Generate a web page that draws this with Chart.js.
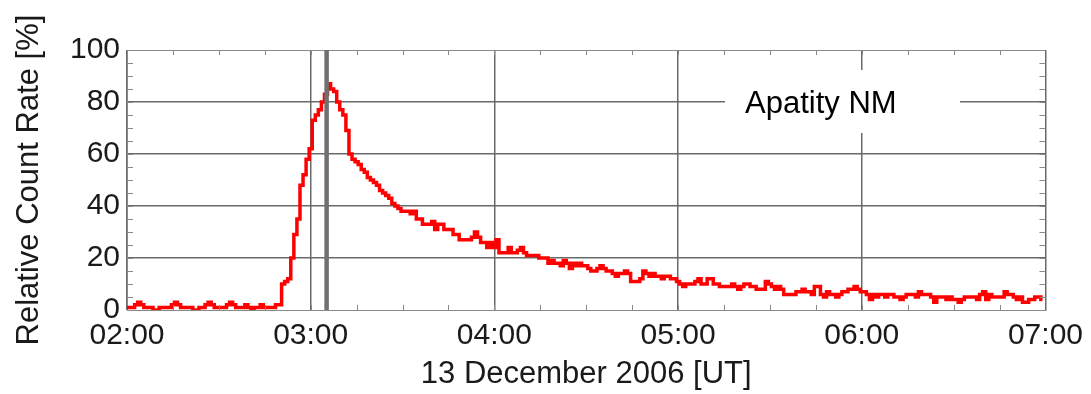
<!DOCTYPE html>
<html>
<head>
<meta charset="utf-8">
<script src="https://cdn.jsdelivr.net/npm/chart.js@4.4.1/dist/chart.umd.min.js"></script>
<style>
  html, body { margin: 0; padding: 0; background: #fff; }
  #wrap { width: 1091px; height: 394px; }
</style>
</head>
<body>
<div id="wrap"><canvas id="chart" width="1091" height="394"></canvas></div>
<script>
// minutes after 02:00 UT, 1-minute bins, relative count rate [%]
const countRate = [
  1, 1, 1, 2, 3, 2, 1, 1, 1, 0,
  0, 1, 1, 1, 1, 2, 3, 2, 1, 1,
  1, 1, 0, 0, 1, 1, 2, 3, 2, 1,
  1, 1, 1, 2, 3, 2, 1, 1, 1, 2,
  1, 0, 1, 1, 2, 1, 1, 1, 1, 2,
  2, 10, 11, 12, 20, 29, 35, 48, 52, 58,
  62, 73, 75, 77, 80, 83, 87, 85, 84, 80,
  77, 75, 69, 60, 58, 57, 56, 54, 53, 51,
  50, 49, 48, 46, 45, 44, 43, 41, 40, 39,
  38, 38, 38, 37, 38, 35, 35, 33, 33, 33,
  34, 31, 33, 33, 31, 31, 31, 29, 29, 27,
  27, 27, 27, 28, 30, 28, 26, 26, 24, 26,
  24, 27, 22, 22, 22, 24, 22, 22, 23, 24,
  22, 21, 21, 21, 21, 20, 20, 20, 18, 19,
  18, 18, 17, 19, 18, 16, 18, 17, 18, 17,
  17, 16, 15, 15, 16, 17, 16, 15, 15, 14,
  13, 14, 14, 15, 14, 11, 11, 11, 12, 15,
  14, 13, 14, 13, 13, 12, 13, 13, 12, 12,
  11, 10, 9, 10, 10, 10, 11, 12, 10, 10,
  12, 12, 10, 10, 9, 9, 9, 9, 10, 9,
  8, 9, 10, 10, 9, 9, 8, 8, 8, 11,
  10, 9, 8, 9, 8, 6, 6, 6, 6, 7,
  7, 8, 7, 7, 6, 9, 9, 6, 5, 7,
  6, 6, 5, 6, 7, 7, 8, 8, 9, 8,
  7, 7, 6, 4, 6, 5, 6, 6, 5, 6,
  6, 5, 5, 4, 5, 6, 6, 6, 5, 7,
  6, 6, 6, 5, 3, 5, 5, 5, 4, 5,
  4, 4, 3, 4, 5, 5, 5, 5, 4, 6,
  7, 4, 6, 5, 5, 5, 5, 7, 6, 6,
  5, 4, 5, 3, 3, 4, 4, 5, 5, 4
];
const startHour = 2;
const hourTicks = ["02:00", "03:00", "04:00", "05:00", "06:00", "07:00"];
const yTicks = [0, 20, 40, 60, 80, 100];
const onsetMinute = 65.2;
const stationLabel = "Apatity NM";
const xTitle = "13 December 2006 [UT]";
const yTitle = "Relative Count Rate [%]";

const FONT = "'Liberation Sans', Arial, Helvetica, sans-serif";
const GRID = "#6a6a6a";

function hhmm(min) {
  const h = startHour + Math.floor(min / 60);
  const m = Math.round(min % 60);
  return String(h).padStart(2, "0") + ":" + String(m).padStart(2, "0");
}

const decor = {
  id: "decor",
  afterDatasetsDraw(chart) {
    const { ctx, chartArea: a, scales: { x, y } } = chart;
    ctx.save();
    // onset marker
    const px = x.getPixelForValue(onsetMinute);
    ctx.strokeStyle = "#707070";
    ctx.lineWidth = 4.5;
    ctx.beginPath();
    ctx.moveTo(px, a.top);
    ctx.lineTo(px, a.bottom);
    ctx.stroke();
    // minor ticks (inside)
    ctx.strokeStyle = "#8a8a8a";
    ctx.lineWidth = 1;
    ctx.beginPath();
    for (let v = 5; v < 100; v += 5) {
      const py = Math.round(y.getPixelForValue(v)) + 0.5;
      ctx.moveTo(a.left, py); ctx.lineTo(a.left + 6, py);
      ctx.moveTo(a.right, py); ctx.lineTo(a.right - 6, py);
    }
    for (let m = 15; m < 300; m += 15) {
      const qx = Math.round(x.getPixelForValue(m)) + 0.5;
      ctx.moveTo(qx, a.bottom); ctx.lineTo(qx, a.bottom - 5);
      ctx.moveTo(qx, a.top); ctx.lineTo(qx, a.top + 5);
    }
    ctx.stroke();
    // station label with white box
    const bx = a.left + 598, by = a.top + 20;
    ctx.fillStyle = "#fff";
    ctx.fillRect(bx, by, 235, 63);
    ctx.fillStyle = "#000";
    ctx.font = "31px " + FONT;
    ctx.textBaseline = "alphabetic";
    ctx.fillText(stationLabel, bx + 20, by + 43);
    ctx.restore();
  }
};

new Chart(document.getElementById("chart"), {
  type: "line",
  data: {
    datasets: [{
      data: countRate.map((v, i) => ({ x: i, y: v })),
      borderColor: "#ff0000",
      borderWidth: 3.5,
      pointRadius: 0,
      stepped: "middle",
      fill: false
    }]
  },
  options: {
    responsive: false,
    animation: false,
    layout: { padding: { top: 50, right: 43, left: 0, bottom: 0 } },
    plugins: { legend: { display: false }, tooltip: { enabled: false } },
    scales: {
      x: {
        type: "linear",
        min: 0,
        max: 300,
        afterFit: (s) => { s.height = 84; },
        afterBuildTicks: (s) => { s.ticks = hourTicks.map((_, i) => ({ value: i * 60 })); },
        ticks: {
          callback: (v) => hhmm(v),
          color: "#1a1a1a",
          font: { family: FONT, size: 30 },
          padding: 8,
          maxRotation: 0
        },
        grid: { color: GRID, lineWidth: 1.5, drawTicks: false },
        border: { color: "#8a8a8a", width: 1 },
        title: {
          display: true,
          text: xTitle,
          color: "#1a1a1a",
          font: { family: FONT, size: 31 },
          padding: { top: 0, bottom: 1 }
        }
      },
      y: {
        min: 0,
        max: 100,
        afterFit: (s) => { s.width = 127; },
        afterBuildTicks: (s) => { s.ticks = yTicks.map((v) => ({ value: v })); },
        ticks: {
          color: "#1a1a1a",
          font: { family: FONT, size: 30 },
          padding: 7
        },
        grid: {
          color: (c) => (c.tick && (c.tick.value === 0 || c.tick.value === 100) ? "#8a8a8a" : GRID),
          lineWidth: (c) => (c.tick && (c.tick.value === 0 || c.tick.value === 100) ? 1 : 1.5),
          drawTicks: false
        },
        border: { color: "#8a8a8a", width: 1 },
        title: {
          display: true,
          text: yTitle,
          color: "#1a1a1a",
          font: { family: FONT, size: 31 },
          padding: { top: 11, bottom: 0 }
        }
      }
    }
  },
  plugins: [decor]
});
</script>
</body>
</html>
